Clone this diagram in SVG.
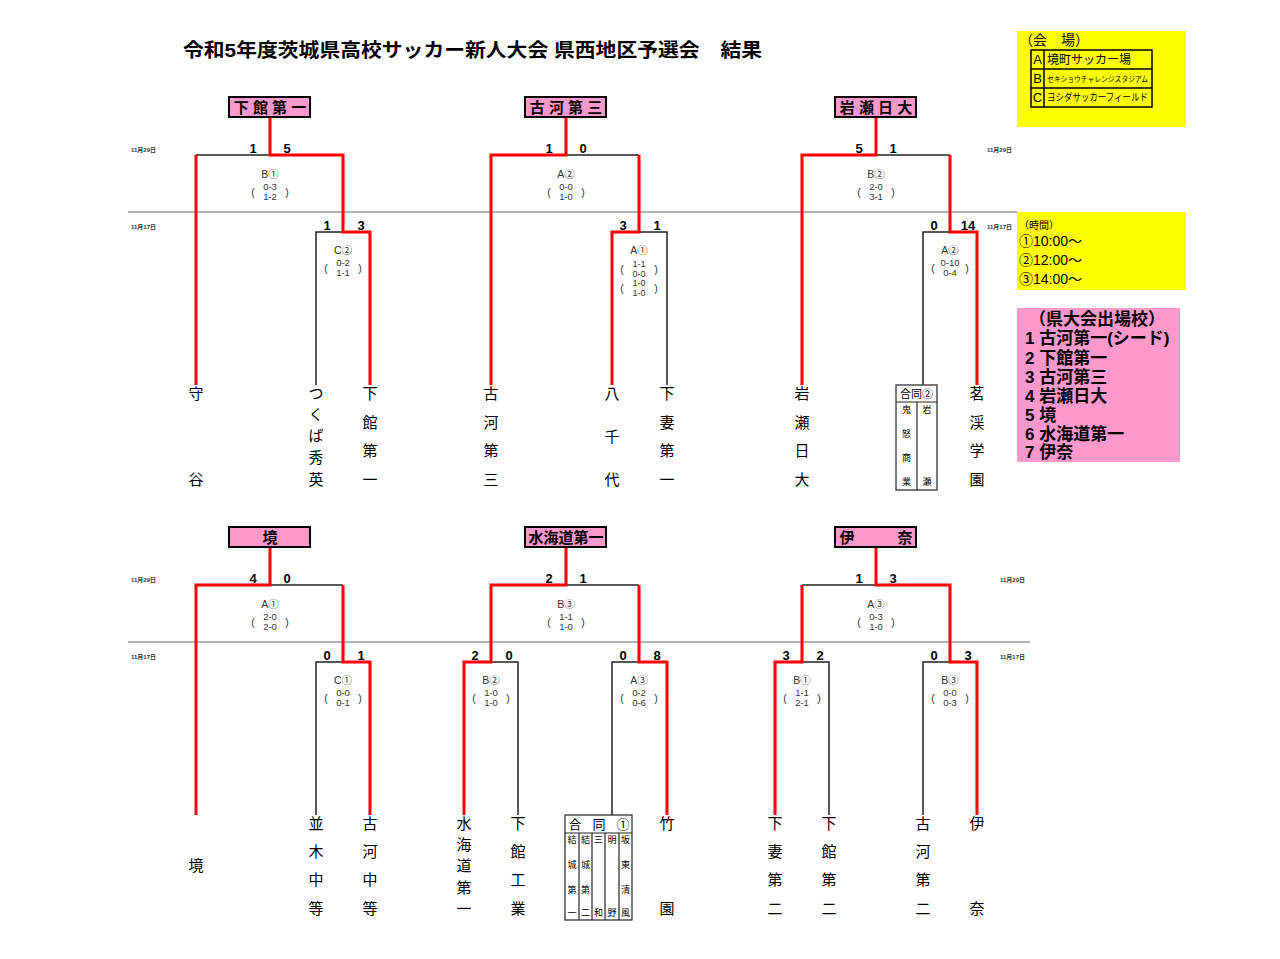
<svg xmlns="http://www.w3.org/2000/svg" width="1280" height="959" viewBox="0 0 1280 959">
<style>
text{font-family:"Liberation Sans","Noto Sans CJK JP",sans-serif;fill:#000}
.ttl{font-size:19px;font-weight:bold}
.wb{fill:#ff99cc;stroke:#000;stroke-width:2}
.wt{font-size:15px;font-weight:bold;text-anchor:middle}
.tm{font-size:15px;text-anchor:middle}
.sc{font-size:13px;font-weight:bold;text-anchor:middle}
.ml{font-size:10.5px;text-anchor:middle;fill:#333}
.ms{font-size:9.5px;text-anchor:middle;fill:#333}
.m4{font-size:9px;text-anchor:middle;fill:#333}
.dt{font-size:6px;fill:#333;font-weight:bold}
.r{stroke:#ff0000;stroke-width:3;fill:none}
.k{stroke:#222;stroke-width:1.5;fill:none}
.dv{stroke:#666;stroke-width:1.2}
.gb{fill:#fff;stroke:#222;stroke-width:1.2}
.gt{font-size:9px;text-anchor:middle}
.yl{fill:#ffff00}
.pk{fill:#ff99cc}
.pl{font-size:17px;font-weight:bold}
</style>

<text class="ttl" x="183" y="57" textLength="579" lengthAdjust="spacingAndGlyphs">令和5年度茨城県高校サッカー新人大会 県西地区予選会　結果</text>

<g id="dividers">
<line class="dv" x1="128" y1="212" x2="1017" y2="212"/>
<line class="dv" x1="128" y1="642" x2="1030" y2="642"/>
</g>

<g id="dates">
<text class="dt" x="131" y="152">11月29日</text>
<text class="dt" x="131" y="229">11月17日</text>
<text class="dt" x="987" y="152">11月29日</text>
<text class="dt" x="987" y="229">11月17日</text>
<text class="dt" x="131" y="582">11月29日</text>
<text class="dt" x="131" y="659">11月17日</text>
<text class="dt" x="1000" y="582">11月29日</text>
<text class="dt" x="1000" y="659">11月17日</text>
</g>

<g id="connectors">
<!-- section 1 -->
<path class="k" d="M196,155 H270"/>
<path class="k" d="M316,385 V232 H343"/>
<path class="r" d="M196,155 V385"/>
<path class="r" d="M270,117 V155 H343 V232 H370 V385"/>
<!-- section 2 -->
<path class="k" d="M566,155 H639"/>
<path class="k" d="M639,232 H667 V385"/>
<path class="r" d="M566,117 V155 H491 V385"/>
<path class="r" d="M639,155 V232 H612 V385"/>
<!-- section 3 -->
<path class="k" d="M876,155 H950"/>
<path class="k" d="M950,232 H923 V385"/>
<path class="r" d="M876,117 V155 H802 V385"/>
<path class="r" d="M950,155 V232 H977 V385"/>
<!-- section 4 -->
<path class="k" d="M270,585 H343"/>
<path class="k" d="M343,662 H316 V815"/>
<path class="r" d="M270,547 V585 H196 V815"/>
<path class="r" d="M343,585 V662 H370 V815"/>
<!-- section 5 -->
<path class="k" d="M566,585 H639"/>
<path class="k" d="M491,662 H518 V815"/>
<path class="k" d="M639,662 H612 V815"/>
<path class="r" d="M566,547 V585 H491 V662 H464 V815"/>
<path class="r" d="M639,585 V662 H667 V815"/>
<!-- section 6 -->
<path class="k" d="M876,585 H802"/>
<path class="k" d="M802,662 H829 V815"/>
<path class="k" d="M950,662 H923 V815"/>
<path class="r" d="M876,547 V585 H950 V662 H977 V815"/>
<path class="r" d="M802,585 V662 H775 V815"/>
</g>

<!-- winner boxes -->
<g id="w-shimodate1"><rect class="wb" x="229" y="97" width="81" height="20"/><text class="wt" x="270" y="113">下 館 第 一</text></g>
<g id="w-koga3"><rect class="wb" x="525" y="97" width="81" height="20"/><text class="wt" x="566" y="113">古 河 第 三</text></g>
<g id="w-iwasenichidai"><rect class="wb" x="835" y="97" width="81" height="20"/><text class="wt" x="876" y="113">岩 瀬 日 大</text></g>
<g id="w-sakai"><rect class="wb" x="229" y="527" width="81" height="20"/><text class="wt" x="270" y="543">境</text></g>
<g id="w-mitsukaido1"><rect class="wb" x="525" y="527" width="81" height="20"/><text class="wt" x="566" y="543">水海道第一</text></g>
<g id="w-ina"><rect class="wb" x="835" y="527" width="81" height="20"/><text class="wt" x="847" y="543">伊</text><text class="wt" x="905" y="543">奈</text></g>

<!-- scores -->
<g id="scores">
<text class="sc" x="253" y="153">1</text><text class="sc" x="287" y="153">5</text>
<text class="sc" x="327" y="230">1</text><text class="sc" x="361" y="230">3</text>
<text class="sc" x="549" y="153">1</text><text class="sc" x="583" y="153">0</text>
<text class="sc" x="623" y="230">3</text><text class="sc" x="657" y="230">1</text>
<text class="sc" x="859" y="153">5</text><text class="sc" x="893" y="153">1</text>
<text class="sc" x="934" y="230">0</text><text class="sc" x="968" y="230">14</text>
<text class="sc" x="253" y="583">4</text><text class="sc" x="287" y="583">0</text>
<text class="sc" x="327" y="660">0</text><text class="sc" x="361" y="660">1</text>
<text class="sc" x="549" y="583">2</text><text class="sc" x="583" y="583">1</text>
<text class="sc" x="475" y="660">2</text><text class="sc" x="509" y="660">0</text>
<text class="sc" x="623" y="660">0</text><text class="sc" x="657" y="660">8</text>
<text class="sc" x="859" y="583">1</text><text class="sc" x="893" y="583">3</text>
<text class="sc" x="786" y="660">3</text><text class="sc" x="820" y="660">2</text>
<text class="sc" x="934" y="660">0</text><text class="sc" x="968" y="660">3</text>
</g>

<!-- match labels -->
<g id="m-top1"><text class="ml" x="270" y="178">B①</text><text class="ml" x="253" y="196">(</text><text class="ml" x="287" y="196">)</text><text class="ms" x="270" y="190">0-3</text><text class="ms" x="270" y="200">1-2</text></g>
<g id="m-sf1"><text class="ml" x="343" y="254">C②</text><text class="ml" x="326" y="272">(</text><text class="ml" x="360" y="272">)</text><text class="ms" x="343" y="266">0-2</text><text class="ms" x="343" y="276">1-1</text></g>
<g id="m-top2"><text class="ml" x="566" y="178">A②</text><text class="ml" x="549" y="196">(</text><text class="ml" x="583" y="196">)</text><text class="ms" x="566" y="190">0-0</text><text class="ms" x="566" y="200">1-0</text></g>
<g id="m-sf2"><text class="ml" x="639" y="254">A①</text><text class="ml" x="622" y="273">(</text><text class="ml" x="656" y="273">)</text><text class="ml" x="622" y="292">(</text><text class="ml" x="656" y="292">)</text><text class="m4" x="639" y="267">1-1</text><text class="m4" x="639" y="276.5">0-0</text><text class="m4" x="639" y="286">1-0</text><text class="m4" x="639" y="295.5">1-0</text></g>
<g id="m-top3"><text class="ml" x="876" y="178">B②</text><text class="ml" x="859" y="196">(</text><text class="ml" x="893" y="196">)</text><text class="ms" x="876" y="190">2-0</text><text class="ms" x="876" y="200">3-1</text></g>
<g id="m-sf3"><text class="ml" x="950" y="254">A②</text><text class="ml" x="933" y="272">(</text><text class="ml" x="967" y="272">)</text><text class="ms" x="950" y="266">0-10</text><text class="ms" x="950" y="276">0-4</text></g>
<g id="m-top4"><text class="ml" x="270" y="608">A①</text><text class="ml" x="253" y="626">(</text><text class="ml" x="287" y="626">)</text><text class="ms" x="270" y="620">2-0</text><text class="ms" x="270" y="630">2-0</text></g>
<g id="m-sf4"><text class="ml" x="343" y="684">C①</text><text class="ml" x="326" y="702">(</text><text class="ml" x="360" y="702">)</text><text class="ms" x="343" y="696">0-0</text><text class="ms" x="343" y="706">0-1</text></g>
<g id="m-top5"><text class="ml" x="566" y="608">B③</text><text class="ml" x="549" y="626">(</text><text class="ml" x="583" y="626">)</text><text class="ms" x="566" y="620">1-1</text><text class="ms" x="566" y="630">1-0</text></g>
<g id="m-sf5a"><text class="ml" x="491" y="684">B②</text><text class="ml" x="474" y="702">(</text><text class="ml" x="508" y="702">)</text><text class="ms" x="491" y="696">1-0</text><text class="ms" x="491" y="706">1-0</text></g>
<g id="m-sf5b"><text class="ml" x="639" y="684">A③</text><text class="ml" x="622" y="702">(</text><text class="ml" x="656" y="702">)</text><text class="ms" x="639" y="696">0-2</text><text class="ms" x="639" y="706">0-6</text></g>
<g id="m-top6"><text class="ml" x="876" y="608">A③</text><text class="ml" x="859" y="626">(</text><text class="ml" x="893" y="626">)</text><text class="ms" x="876" y="620">0-3</text><text class="ms" x="876" y="630">1-0</text></g>
<g id="m-sf6a"><text class="ml" x="802" y="684">B①</text><text class="ml" x="785" y="702">(</text><text class="ml" x="819" y="702">)</text><text class="ms" x="802" y="696">1-1</text><text class="ms" x="802" y="706">2-1</text></g>
<g id="m-sf6b"><text class="ml" x="950" y="684">B③</text><text class="ml" x="933" y="702">(</text><text class="ml" x="967" y="702">)</text><text class="ms" x="950" y="696">0-0</text><text class="ms" x="950" y="706">0-3</text></g>

<!-- teams top -->
<g id="t-moriya"><text class="tm"><tspan x="196" y="399">守</tspan><tspan x="196" y="485">谷</tspan></text></g>
<g id="t-tsukubashuei"><text class="tm"><tspan x="316" y="399">つ</tspan><tspan x="316" y="420">く</tspan><tspan x="316" y="441">ば</tspan><tspan x="316" y="463">秀</tspan><tspan x="316" y="485">英</tspan></text></g>
<g id="t-shimodate1"><text class="tm"><tspan x="370" y="399">下</tspan><tspan x="370" y="428">館</tspan><tspan x="370" y="456">第</tspan><tspan x="370" y="485">一</tspan></text></g>
<g id="t-koga3"><text class="tm"><tspan x="491" y="399">古</tspan><tspan x="491" y="428">河</tspan><tspan x="491" y="456">第</tspan><tspan x="491" y="485">三</tspan></text></g>
<g id="t-yachiyo"><text class="tm"><tspan x="612" y="399">八</tspan><tspan x="612" y="442">千</tspan><tspan x="612" y="485">代</tspan></text></g>
<g id="t-shimotsuma1"><text class="tm"><tspan x="667" y="399">下</tspan><tspan x="667" y="428">妻</tspan><tspan x="667" y="456">第</tspan><tspan x="667" y="485">一</tspan></text></g>
<g id="t-iwasenichidai"><text class="tm"><tspan x="802" y="399">岩</tspan><tspan x="802" y="428">瀬</tspan><tspan x="802" y="456">日</tspan><tspan x="802" y="485">大</tspan></text></g>
<g id="t-godo2">
<rect class="gb" x="896" y="385" width="41" height="105"/>
<line class="k" x1="896" y1="402" x2="937" y2="402" style="stroke-width:1.2"/>
<line class="k" x1="917" y1="402" x2="917" y2="490" style="stroke-width:1.2"/>
<text x="916.5" y="398" style="font-size:11px;text-anchor:middle">合同②</text>
<text class="gt"><tspan x="906.5" y="413">鬼</tspan><tspan x="906.5" y="437">怒</tspan><tspan x="906.5" y="461">商</tspan><tspan x="906.5" y="485">業</tspan></text>
<text class="gt"><tspan x="927" y="413">岩</tspan><tspan x="927" y="485">瀬</tspan></text>
</g>
<g id="t-meikeigakuen"><text class="tm"><tspan x="977" y="399">茗</tspan><tspan x="977" y="428">渓</tspan><tspan x="977" y="456">学</tspan><tspan x="977" y="485">園</tspan></text></g>

<!-- teams bottom -->
<g id="t-sakai"><text class="tm" x="196" y="871">境</text></g>
<g id="t-namiki"><text class="tm"><tspan x="316" y="829">並</tspan><tspan x="316" y="857">木</tspan><tspan x="316" y="885">中</tspan><tspan x="316" y="914">等</tspan></text></g>
<g id="t-kogachuto"><text class="tm"><tspan x="370" y="829">古</tspan><tspan x="370" y="857">河</tspan><tspan x="370" y="885">中</tspan><tspan x="370" y="914">等</tspan></text></g>
<g id="t-mitsukaido1"><text class="tm"><tspan x="464" y="829">水</tspan><tspan x="464" y="850">海</tspan><tspan x="464" y="871">道</tspan><tspan x="464" y="893">第</tspan><tspan x="464" y="914">一</tspan></text></g>
<g id="t-shimodatekogyo"><text class="tm"><tspan x="518" y="829">下</tspan><tspan x="518" y="857">館</tspan><tspan x="518" y="885">工</tspan><tspan x="518" y="914">業</tspan></text></g>
<g id="t-godo1">
<rect class="gb" x="565" y="815" width="67" height="105"/>
<line class="k" x1="565" y1="833" x2="632" y2="833" style="stroke-width:1.2"/>
<line class="k" x1="579" y1="833" x2="579" y2="920" style="stroke-width:1.2"/>
<line class="k" x1="592" y1="833" x2="592" y2="920" style="stroke-width:1.2"/>
<line class="k" x1="605" y1="833" x2="605" y2="920" style="stroke-width:1.2"/>
<line class="k" x1="619" y1="833" x2="619" y2="920" style="stroke-width:1.2"/>
<text x="575" y="829" style="font-size:13px;text-anchor:middle">合</text>
<text x="599" y="829" style="font-size:13px;text-anchor:middle">同</text>
<text x="623" y="829" style="font-size:13px;text-anchor:middle">①</text>
<text class="gt"><tspan x="572" y="843">結</tspan><tspan x="572" y="868">城</tspan><tspan x="572" y="893">第</tspan><tspan x="572" y="916">一</tspan></text>
<text class="gt"><tspan x="585.5" y="843">結</tspan><tspan x="585.5" y="868">城</tspan><tspan x="585.5" y="893">第</tspan><tspan x="585.5" y="916">二</tspan></text>
<text class="gt"><tspan x="598.5" y="843">三</tspan><tspan x="598.5" y="916">和</tspan></text>
<text class="gt"><tspan x="612" y="843">明</tspan><tspan x="612" y="916">野</tspan></text>
<text class="gt"><tspan x="625.5" y="843">坂</tspan><tspan x="625.5" y="868">東</tspan><tspan x="625.5" y="893">清</tspan><tspan x="625.5" y="916">風</tspan></text>
</g>
<g id="t-takezono"><text class="tm"><tspan x="667" y="829">竹</tspan><tspan x="667" y="914">園</tspan></text></g>
<g id="t-shimotsuma2"><text class="tm"><tspan x="775" y="829">下</tspan><tspan x="775" y="857">妻</tspan><tspan x="775" y="885">第</tspan><tspan x="775" y="914">二</tspan></text></g>
<g id="t-shimodate2"><text class="tm"><tspan x="829" y="829">下</tspan><tspan x="829" y="857">館</tspan><tspan x="829" y="885">第</tspan><tspan x="829" y="914">二</tspan></text></g>
<g id="t-koga2"><text class="tm"><tspan x="923" y="829">古</tspan><tspan x="923" y="857">河</tspan><tspan x="923" y="885">第</tspan><tspan x="923" y="914">二</tspan></text></g>
<g id="t-ina"><text class="tm"><tspan x="977" y="829">伊</tspan><tspan x="977" y="914">奈</tspan></text></g>

<!-- info panels -->
<g id="venue">
<rect class="yl" x="1017" y="31" width="169" height="96"/>
<text x="1019" y="45" style="font-size:14px">（会　場）</text>
<rect x="1031" y="50" width="121" height="57" fill="none" stroke="#000" stroke-width="1.5"/>
<line x1="1031" y1="69" x2="1152" y2="69" stroke="#000" stroke-width="1.5"/>
<line x1="1031" y1="88" x2="1152" y2="88" stroke="#000" stroke-width="1.5"/>
<line x1="1044" y1="50" x2="1044" y2="107" stroke="#000" stroke-width="1.5"/>
<text x="1037.5" y="64" style="font-size:13px;text-anchor:middle">A</text>
<text x="1037.5" y="83" style="font-size:13px;text-anchor:middle">B</text>
<text x="1037.5" y="102" style="font-size:13px;text-anchor:middle">C</text>
<text x="1047" y="64" style="font-size:12px">境町サッカー場</text>
<text x="1047" y="82" style="font-size:7.5px" textLength="101" lengthAdjust="spacingAndGlyphs">セキショウチャレンジスタジアム</text>
<text x="1047" y="101" style="font-size:10px" textLength="101" lengthAdjust="spacingAndGlyphs">ヨシダサッカーフィールド</text>
</g>
<g id="time">
<rect class="yl" x="1017" y="212" width="169" height="78"/>
<text x="1019" y="229" style="font-size:10px">（時間）</text>
<text x="1019" y="246" style="font-size:14px">①10:00～</text>
<text x="1019" y="265" style="font-size:14px">②12:00～</text>
<text x="1019" y="284" style="font-size:14px">③14:00～</text>
</g>
<g id="qualified">
<rect class="pk" x="1017" y="308" width="163" height="154"/>
<text class="pl" x="1097" y="325" text-anchor="middle">（県大会出場校）</text>
<text class="pl" x="1025" y="344">1 古河第一(シード)</text>
<text class="pl" x="1025" y="364">2 下館第一</text>
<text class="pl" x="1025" y="383">3 古河第三</text>
<text class="pl" x="1025" y="402">4 岩瀬日大</text>
<text class="pl" x="1025" y="421">5 境</text>
<text class="pl" x="1025" y="440">6 水海道第一</text>
<text class="pl" x="1025" y="458">7 伊奈</text>
</g>
</svg>
